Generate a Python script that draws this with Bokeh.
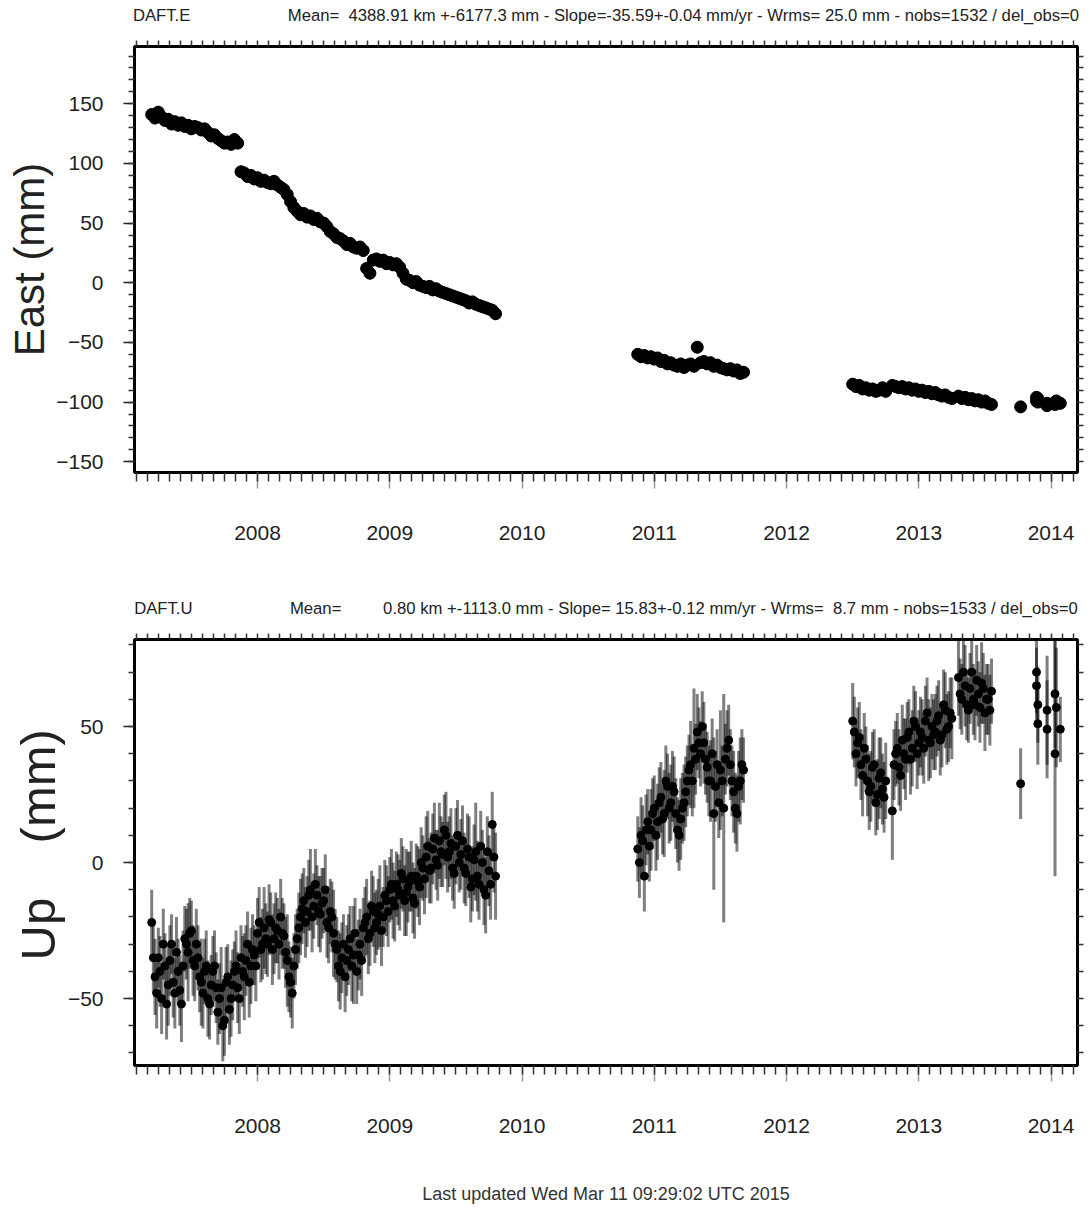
import numpy as np
from bokeh.plotting import figure
from bokeh.layouts import column
from bokeh.models import ColumnDataSource, FixedTicker, LinearAxis, Range1d, Title
from bokeh.embed import file_html
from bokeh.resources import INLINE

# ---------------- data ----------------
# observing blocks, sampled every STEP years from their start epoch
STEP = 0.025
S1_START = 2007.200
S2_START = 2010.875
S3A_START = 2012.500
S3B_START = 2012.800
S3C_START = 2013.300
S4_EPOCHS = [2013.77, 2013.89, 2013.89, 2013.90, 2013.90, 2013.97, 2013.97,
             2014.03, 2014.03, 2014.04, 2014.07]

EAST_S1 = [141, 138, 143, 139, 136, 137, 133, 135, 132, 134,
           131, 132, 129, 131, 130, 128, 129, 126, 123, 124,
           121, 119, 117, 118, 116, 120, 117, 93, 92, 89,
           90, 87, 88, 85, 86, 84, 83, 85, 82, 80,
           78, 74, 68, 63, 60, 57, 58, 55, 56, 53,
           54, 51, 50, 47, 43, 41, 38, 37, 35, 32,
           33, 30, 29, 30, 27, 12, 8, 19, 20, 18,
           19, 16, 17, 15, 16, 13, 8, 3, 2, 0,
           1, -2, -3, -4, -3, -6, -5, -7, -8, -9,
           -10, -11, -12, -13, -14, -15, -17, -16, -18, -19,
           -20, -21, -22, -23, -26]
EAST_S2 = [-60, -62, -61, -63, -62, -64, -63, -66, -65, -68,
           -67, -69, -70, -68, -71, -69, -68, -70, -54, -67,
           -66, -68, -67, -70, -69, -71, -72, -73, -72, -74,
           -73, -76, -75]
EAST_S3A = [-85, -87, -86, -89, -88, -90, -89, -91, -90, -88, -91]
EAST_S3B = [-86, -87, -88, -87, -89, -88, -90, -89, -91, -90,
            -92, -91, -93, -92, -94, -95, -94, -96, -97]
EAST_S3C = [-95, -97, -96, -98, -97, -99, -98, -100, -99, -101, -102]
EAST_S4 = [-104, -96, -99, -97, -100, -103, -101, -102, -100, -99, -101]
EAST_SIG = 5.0

UP_S1 = [-22, -42, -35, -50, -38, -45, -30, -48, -40, -52,
         -28, -33, -25, -38, -35, -44, -40, -50, -45, -38,
         -55, -46, -58, -42, -50, -40, -46, -35, -42, -30,
         -38, -34, -26, -32, -24, -30, -22, -28, -25, -20,
         -27, -36, -44, -38, -28, -20, -14, -18, -10, -16,
         -12, -19, -14, -22, -18, -26, -32, -40, -30, -36,
         -28, -34, -40, -30, -24, -20, -26, -18, -22, -16,
         -20, -14, -10, -14, -8, -12, -6, -11, -7, -13,
         -5, -9, -2, 2, -3, 5, 1, 8, 3, 10,
         4, -2, 6, 0, 8, -4, 2, -6, 4, -8,
         0, -12, -3, 14, -5]
UP_SIG_S1 = [12, 14, 11, 13, 12, 15, 11, 13, 12, 14,
             12, 18, 11, 13, 12, 16, 12, 14, 11, 13,
             12, 15, 13, 12, 14, 11, 13, 12, 16, 12,
             14, 11, 13, 12, 15, 12, 11, 13, 12, 14,
             12, 17, 13, 12, 11, 14, 12, 13, 15, 12,
             11, 14, 12, 13, 12, 16, 12, 14, 11, 13,
             12, 18, 12, 13, 11, 14, 12, 13, 12, 15,
             11, 13, 12, 14, 12, 13, 12, 16, 11, 13,
             12, 14, 12, 15, 12, 13, 11, 14, 12, 16,
             13, 12, 14, 11, 13, 12, 15, 12, 18, 13,
             12, 14, 13, 12, 16]
UP_S2 = [5, 10, -5, 15, 12, 20, 15, 24, 18, 28,
         22, 26, 12, 16, 22, 30, 36, 42, 48, 40,
         44, 35, 30, 18, 36, 34, 20, 42, 36, 26,
         18, 30, 34]
UP_SIG_S2 = [12, 14, 13, 12, 15, 12, 14, 13, 16, 12,
             14, 13, 12, 15, 14, 13, 16, 22, 14, 12,
             15, 13, 15, 28, 13, 22, 42, 14, 13, 15,
             14, 16, 12]
UP_S3A = [52, 40, 46, 32, 38, 26, 35, 22, 31, 27, 30]
UP_SIG_S3A = [14, 12, 13, 15, 12, 14, 13, 12, 15, 13, 14]
UP_S3B = [19, 40, 35, 45, 38, 48, 42, 50, 44, 46,
          52, 45, 50, 48, 54, 47, 56, 50, 53]
UP_SIG_S3B = [18, 12, 14, 13, 15, 12, 14, 13, 12, 14,
              13, 15, 12, 14, 13, 12, 14, 13, 15]
UP_S3C = [68, 60, 65, 56, 70, 58, 62, 66, 55, 60, 63]
UP_SIG_S3C = [14, 13, 15, 12, 14, 13, 12, 15, 14, 13, 12]
UP_S4 = [29, 70, 65, 58, 51, 56, 49, 40, 62, 57, 49]
UP_SIG_S4 = [13, 15, 14, 14, 15, 20, 18, 45, 20, 22, 12]

# further Up readings, half a step after each epoch above
UP_MID_S1 = [-35, -48, -40, -30, -52, -36, -44, -33, -47, -38,
             -30, -26, -36, -30, -42, -48, -38, -52, -40, -46,
             -50, -60, -44, -54, -45, -38, -50, -40, -36, -44,
             -32, -38, -22, -30, -28, -21, -32, -24, -30, -26,
             -33, -42, -48, -32, -24, -17, -22, -12, -20, -8,
             -18, -15, -10, -24, -20, -30, -38, -35, -42, -32,
             -38, -26, -34, -36, -22, -28, -16, -24, -19, -25,
             -12, -18, -8, -16, -10, -4, -14, -9, -5, -15,
             -7, 0, -6, 6, -2, 9, -1, 4, 12, 2,
             7, -4, 10, 3, -2, 5, -9, 1, -5, 6,
             -10, 4, -8, 2]
UP_MID_S2 = [0, 8, 12, 6, 18, 10, 22, 16, 30, 20,
             28, 18, 10, 20, 26, 34, 30, 38, 44, 50,
             38, 30, 40, 28, 22, 30, 38, 45, 30, 20,
             28, 36]
UP_MID_S3A = [48, 44, 36, 42, 30, 28, 36, 25, 33, 24]
UP_MID_S3B = [36, 42, 32, 40, 46, 38, 52, 40, 48, 42,
              55, 44, 47, 52, 45, 58, 49, 55]
UP_MID_S3C = [62, 70, 58, 64, 60, 67, 57, 64, 60, 56]
UP_MID_SIG = 13.0

YEAR_TICKS = [2007, 2008, 2009, 2010, 2011, 2012, 2013, 2014, 2015]
EAST_TICKS = [-150, -100, -50, 0, 50, 100, 150]
UP_TICKS = [-50, 0, 50]

NB = "\u00a0"
TITLE_E = ("DAFT.E" + NB * 21 + "Mean=" + NB * 2 +
           "4388.91 km +-6177.3 mm - Slope=-35.59+-0.04 mm/yr - Wrms= 25.0 mm - nobs=1532 / del_obs=0")
TITLE_U = ("DAFT.U" + NB * 21 + "Mean=" + NB * 9 +
           "0.80 km +-1113.0 mm - Slope= 15.83+-0.12 mm/yr - Wrms=" + NB * 2 +
           "8.7 mm - nobs=1533 / del_obs=0")
LABEL_E = "East (mm)"
LABEL_U = "Up" + NB * 4 + "(mm)"
FOOTER = "Last updated Wed Mar 11 09:29:02 UTC 2015"

# ---------------- assemble ----------------
def epochs(start, n):
    return [start + STEP * i for i in range(n)]

T = (epochs(S1_START, len(EAST_S1)) + epochs(S2_START, len(EAST_S2)) +
     epochs(S3A_START, len(EAST_S3A)) + epochs(S3B_START, len(EAST_S3B)) +
     epochs(S3C_START, len(EAST_S3C)) + S4_EPOCHS)
EAST = EAST_S1 + EAST_S2 + EAST_S3A + EAST_S3B + EAST_S3C + EAST_S4
UP = UP_S1 + UP_S2 + UP_S3A + UP_S3B + UP_S3C + UP_S4
UP_SIG = UP_SIG_S1 + UP_SIG_S2 + UP_SIG_S3A + UP_SIG_S3B + UP_SIG_S3C + UP_SIG_S4

H = STEP / 2
T_MID = (epochs(S1_START + H, len(UP_MID_S1)) + epochs(S2_START + H, len(UP_MID_S2)) +
         epochs(S3A_START + H, len(UP_MID_S3A)) + epochs(S3B_START + H, len(UP_MID_S3B)) +
         epochs(S3C_START + H, len(UP_MID_S3C)))
UP_MID = UP_MID_S1 + UP_MID_S2 + UP_MID_S3A + UP_MID_S3B + UP_MID_S3C

t = np.array(T)
e = np.array(EAST, dtype=float)
u = np.array(UP, dtype=float)
us = np.array(UP_SIG, dtype=float)
tm = np.array(T_MID)
um = np.array(UP_MID, dtype=float)

src_e = ColumnDataSource(dict(t=t, v=e, lo=e - EAST_SIG, hi=e + EAST_SIG))
src_u = ColumnDataSource(dict(t=np.concatenate([t, tm]), v=np.concatenate([u, um]),
                              lo=np.concatenate([u - us, um - UP_MID_SIG]),
                              hi=np.concatenate([u + us, um + UP_MID_SIG])))

FONT = "Liberation Sans"
MINOR_X = [2007 + k / 12 for k in range(12 * 9)]


def make_fig(height, top, bottom, yr, major, minor):
    p = figure(width=1090, height=height, output_backend="svg", toolbar_location=None,
               x_range=Range1d(2007.07, 2014.20), y_range=Range1d(*yr),
               x_axis_location=None, y_axis_location=None,
               min_border_left=134, min_border_right=13,
               min_border_top=top, min_border_bottom=bottom)
    p.xgrid.visible = False
    p.ygrid.visible = False
    p.outline_line_color = "black"
    p.outline_line_width = 3
    p.background_fill_color = "white"
    p.border_fill_color = "white"

    below = LinearAxis(ticker=FixedTicker(ticks=YEAR_TICKS, minor_ticks=MINOR_X))
    above = LinearAxis(ticker=FixedTicker(ticks=[], minor_ticks=MINOR_X))
    left = LinearAxis(ticker=FixedTicker(ticks=major, minor_ticks=minor))
    right = LinearAxis(ticker=FixedTicker(ticks=[], minor_ticks=minor))
    for ax in (below, above, left, right):
        ax.axis_line_color = None
        ax.major_tick_in = 0
        ax.minor_tick_in = 0
        ax.major_tick_line_color = "#222"
        ax.minor_tick_line_color = "#333"
        ax.major_tick_line_width = 1.5
        ax.minor_tick_line_width = 1.5
        ax.major_label_text_font = FONT
        ax.major_label_text_font_size = "21px"
        ax.major_label_text_color = "#222"
        ax.axis_label_text_font = FONT
        ax.axis_label_text_font_style = "normal"
        ax.axis_label_text_color = "#222"
    below.major_tick_out = 16
    below.minor_tick_out = 9
    below.major_tick_line_color = "#999"
    below.major_label_standoff = 37
    above.major_tick_out = 6
    above.minor_tick_out = 6
    above.major_label_standoff = 0
    left.major_tick_out = 11
    left.minor_tick_out = 6
    left.major_label_standoff = 20
    right.major_tick_out = 6
    right.minor_tick_out = 6
    right.major_label_standoff = 0
    p.add_layout(below, "below")
    p.add_layout(above, "above")
    p.add_layout(left, "left")
    p.add_layout(right, "right")
    return p, below, above, left


# ---- East panel ----
p1, b1, a1, l1 = make_fig(556, 46, 84, (-159, 198), EAST_TICKS, list(range(-150, 200, 10)))
p1.segment(x0="t", y0="lo", x1="t", y1="hi", source=src_e, line_color="black", line_width=2)
p1.scatter(x="t", y="v", source=src_e, size=12, color="black")
a1.axis_label = TITLE_E
a1.axis_label_text_font_size = "16.7px"
a1.axis_label_standoff = 16
l1.axis_label = LABEL_E
l1.axis_label_text_font_size = "42px"
l1.axis_label_standoff = 0

# ---- Up panel ----
p2, b2, a2, l2 = make_fig(664, 83, 155, (-74.6, 82), UP_TICKS, list(range(-70, 90, 10)))
p2.segment(x0="t", y0="lo", x1="t", y1="hi", source=src_u, line_color="black",
           line_width=3, line_alpha=0.5)
p2.scatter(x="t", y="v", source=src_u, size=8, color="black")
a2.axis_label = TITLE_U
a2.axis_label_text_font_size = "16.7px"
a2.axis_label_standoff = 16
p2.add_layout(Title(text=LABEL_U, align="left", offset=105, standoff=0,
                    text_font=FONT, text_font_size="49px", text_font_style="normal",
                    text_color="#222"), "left")
b2.axis_label = FOOTER
b2.axis_label_text_font_size = "18px"
b2.axis_label_text_color = "#333"
b2.axis_label_standoff = 48

layout = column(p1, p2, spacing=0)
open("out.html", "w").write(file_html(layout, INLINE))
